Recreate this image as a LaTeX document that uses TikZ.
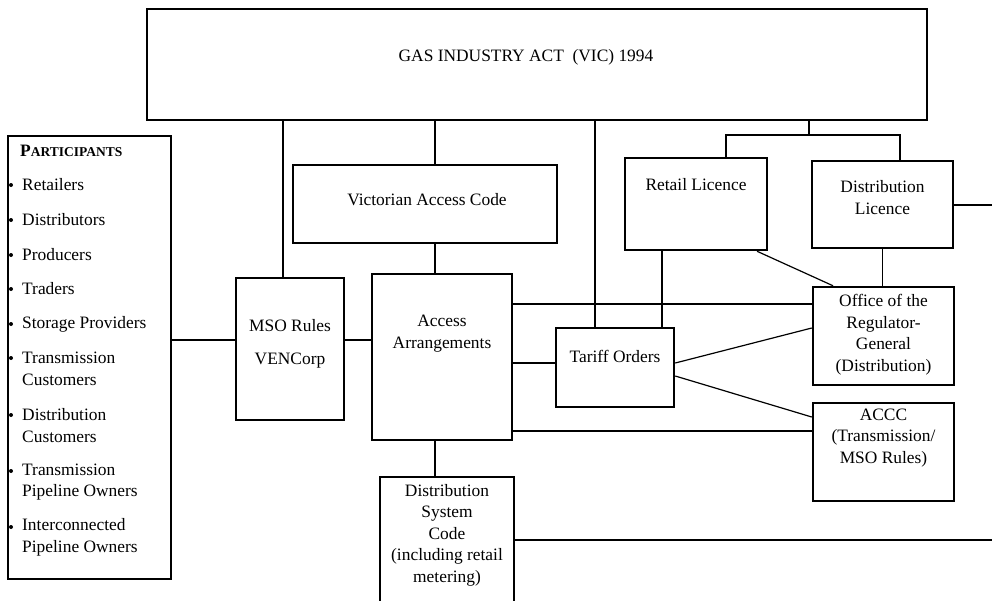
\documentclass[tikz,border=0pt]{standalone}
\usepackage{fontspec}
\setmainfont{Liberation Serif}
\tikzset{
  box/.style={draw, line width=2.5pt, inner sep=0pt},
  lbl/.style={font=\fontsize{17.4}{21.5}\selectfont, align=center, inner sep=0pt},
  item/.style={lbl, align=left, anchor=west},
  link/.style={line width=1.2pt},
  trunk/.style={line width=2pt}
}
\begin{document}
\begin{tikzpicture}[x=1pt,y=-1pt]
\useasboundingbox (0,0) rectangle (992,600);
% boxes
\node[box, minimum width=780pt, minimum height=111pt] (act) at (537,64.5) {};
\node[box, minimum width=163pt, minimum height=443pt] (part) at (89.5,357.5) {};
\node[box, minimum width=264pt, minimum height=78pt] (vac) at (425,204) {};
\node[box, minimum width=108pt, minimum height=142pt] (mso) at (290,349) {};
\node[box, minimum width=140pt, minimum height=166pt] (acc) at (442,357) {};
\node[box, minimum width=118pt, minimum height=79pt] (tariff) at (615,367.5) {};
\node[box, minimum width=142pt, minimum height=92pt] (retail) at (696,204) {};
\node[box, minimum width=141pt, minimum height=87pt] (dlic) at (882.5,204.5) {};
\node[box, minimum width=141pt, minimum height=98pt] (org) at (883.5,336) {};
\node[box, minimum width=141pt, minimum height=98pt] (accc) at (883.5,452) {};
\node[box, minimum width=134pt, minimum height=126pt] (dsc) at (447,540) {};
% texts
\node[lbl] (actT) at (526,57) {GAS INDUSTRY ACT\ \ (VIC) 1994};
\node[lbl, anchor=west] (partT) at (20,151) {\bfseries P{\fontsize{13.5}{15}\selectfont ARTICIPANTS}};
\foreach \y/\t [count=\i] in {185/Retailers, 220/Distributors, 255/Producers, 289/Traders,
    324/Storage Providers, 369/{Transmission\\Customers}, 425.5/{Distribution\\Customers},
    482/{Transmission\\Pipeline Owners}, 537.5/{Interconnected\\Pipeline Owners}} {
  \node[item] (item\i) at (22,\y) {\t};
}
\foreach \b in {185,220,255,289,324,358,415,471,527} {
  \fill (11,\b) circle (2pt);
}
\node[lbl] (vacT) at (427,200) {Victorian Access Code};
\node[lbl] (msoT) at (290,326) {MSO Rules};
\node[lbl] (msoU) at (290,361) {VENCorp};
\node[lbl] (accT) at (442,333.5) {Access\\Arrangements};
\node[lbl] (tariffT) at (615,356) {Tariff Orders};
\node[lbl] (retailT) at (696,185) {Retail Licence};
\node[lbl] (dlicT) at (882.5,197.5) {Distribution\\Licence};
\node[lbl] (orgT) at (883.5,334.5) {Office of the\\Regulator-\\General\\(Distribution)};
\node[lbl] (acccT) at (883.5,438) {ACCC\\(Transmission/\\MSO Rules)};
\node[lbl] (dscT) at (447,535) {Distribution\\System\\Code\\(including retail\\metering)};
% from the act down
\draw[trunk] ([xshift=-7pt]mso.north |- act.south) -- ([xshift=-7pt]mso.north);
\draw[link] ([xshift=-7pt]acc.north |- act.south) -- ([xshift=-7pt]acc.north |- vac.north);
\draw[link] ([xshift=-7pt]acc.north |- vac.south) -- ([xshift=-7pt]acc.north);
\draw[trunk] ([xshift=-20pt]tariff.north |- act.south) -- ([xshift=-20pt]tariff.north);
\coordinate (fork) at ([xshift=272pt,yshift=-14pt]act.south);
\draw[trunk] (act.south -| fork) -- (fork);
\draw[trunk] ([xshift=30pt]retail.north) |- (fork) -| ([xshift=17.5pt]dlic.north);
% participants, mso, access arrangements
\draw[trunk] ([yshift=9pt]mso.west -| part.east) -- ([yshift=9pt]mso.west);
\draw[link] ([yshift=9pt]mso.east) -- ([yshift=9pt]mso.east -| acc.west);
\draw[link] ([yshift=32pt]org.west -| acc.east) -- ([yshift=32pt]org.west);
\draw[link] ([yshift=4.5pt]tariff.west -| acc.east) -- ([yshift=4.5pt]tariff.west);
\draw[link] ([yshift=21pt]accc.west -| acc.east) -- ([yshift=21pt]accc.west);
\draw[link] ([xshift=-7pt]acc.south) -- ([xshift=-7pt]acc.south |- dsc.north);
% licences and regulators
\draw[link] ([xshift=47pt]tariff.north |- retail.south) -- ([xshift=47pt]tariff.north);
\draw[link] ([xshift=61pt]retail.south) -- ([xshift=-50.5pt]org.north);
\draw[link] (dlic.south) -- (dlic.south |- org.north);
\draw[link] ([yshift=4.5pt]tariff.east) -- ([yshift=8pt]org.west);
\draw[link] ([yshift=-8.5pt]tariff.east) -- ([yshift=35pt]accc.west);
\coordinate (rim) at (992,0);
\draw[trunk] (dlic.east) -- (dlic.east -| rim);
\draw[trunk] (dsc.east) -- (dsc.east -| rim);
\end{tikzpicture}
\end{document}
